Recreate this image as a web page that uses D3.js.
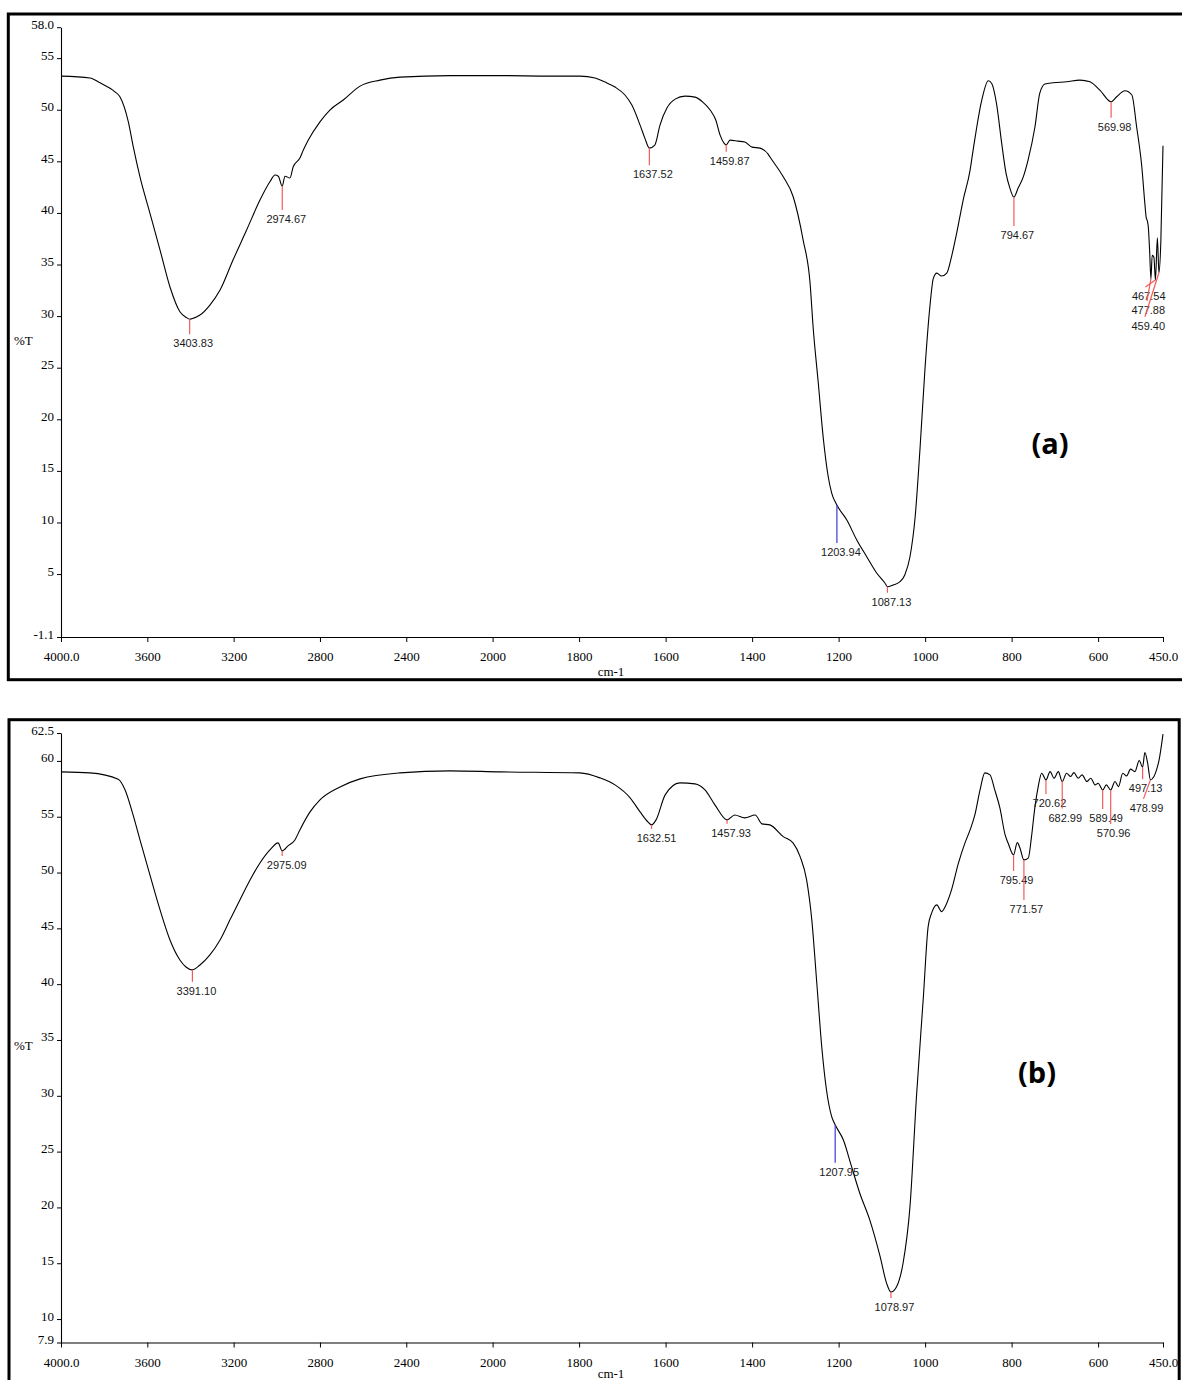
<!DOCTYPE html>
<html>
<head>
<meta charset="utf-8">
<script src="https://cdn.jsdelivr.net/npm/d3@7/dist/d3.min.js"></script>
<style>
  html, body { margin: 0; padding: 0; background: #fff; }
  svg { display: block; }
</style>
</head>
<body>
<svg id="chart" width="1182" height="1380"></svg>
<script>
// ---------------- Spectrum (a) ----------------
const wnA = [4000, 3866, 3819, 3750, 3727, 3688, 3665, 3634, 3588, 3541, 3495, 3449, 3418, 3404, 3394,
  3356, 3310, 3263, 3203, 3140, 3078, 3032, 3008, 2993, 2975, 2962, 2939, 2924, 2893, 2877, 2854, 2800,
  2754, 2692, 2614, 2522, 2429, 2197, 1983, 1867, 1798, 1763, 1740, 1717, 1694, 1678, 1659, 1648, 1637.5,
  1625, 1613, 1597, 1578, 1555, 1532, 1514, 1497, 1484, 1474, 1465, 1460, 1451, 1433, 1417, 1400, 1382,
  1363, 1359, 1328, 1305, 1282, 1266, 1259, 1247, 1235, 1224, 1216, 1204, 1181, 1158, 1135, 1112, 1093,
  1087, 1074, 1058, 1047, 1035, 1023, 1012, 1000, 989, 981, 973, 962, 950, 939, 927, 912, 896, 889, 869,
  854, 846, 835, 823, 813, 804, 794.7, 785, 773, 762, 746, 735, 723, 704, 673, 642, 619, 596, 570, 557,
  538, 522, 511, 499, 492, 489, 486, 484, 481, 477.9, 475, 471, 467.5, 463, 459.4, 455, 450];
const tA = [53.26, 53.07, 52.61, 51.74, 51.26, 48.83, 46.41, 43.50, 39.99, 36.40, 32.82, 30.42, 29.85, 29.70, 29.75,
  30.10, 31.07, 32.52, 35.43, 38.34, 41.25, 43.02, 43.67, 43.56, 42.60, 43.56, 43.38, 44.47, 45.32, 46.09, 47.06, 48.83,
  49.97, 50.94, 52.29, 52.87, 53.16, 53.31, 53.31, 53.26, 53.26, 53.07, 52.68, 52.20, 51.43, 50.45, 48.51, 47.25, 46.28,
  46.57, 48.51, 50.16, 51.03, 51.32, 51.22, 50.74, 49.97, 49.00, 47.54, 46.77, 46.60, 47.06, 46.96, 46.87, 46.38, 46.28,
  45.70, 45.44, 43.50, 41.57, 37.37, 33.20, 28.97, 23.51, 17.99, 14.43, 12.85, 11.69, 10.24, 8.30, 6.68, 5.10, 4.13,
  3.77, 3.94, 4.26, 4.91, 6.68, 10.56, 17.02, 25.09, 30.91, 33.66, 34.17, 33.88, 34.17, 35.75, 38.05, 41.25, 44.15, 46.09, 50.94,
  52.81, 52.55, 50.62, 46.77, 43.86, 42.41, 41.54, 42.41, 43.50, 45.12, 48.35, 51.58, 52.49, 52.61, 52.71, 52.87, 52.71, 51.90, 50.77, 51.26,
  51.84, 51.43, 48.35, 44.47, 40.93, 39.60, 39.20, 38.66, 36.40, 33.60, 35.90, 35.70, 33.50, 37.60, 34.20, 37.20, 46.50];

// marked bands of (a)
const peakWnA = [3403.83, 2974.67, 1637.52, 1459.87, 1203.94, 1087.13, 794.67, 569.98, 467.54, 477.88, 459.40];
const peakTA  = [29.70, 42.60, 46.28, 46.60, 11.69, 3.77, 41.54, 50.77, 33.50, 33.60, 34.20];

// ---------------- Spectrum (b) ----------------
const wnB = [4000, 3866, 3735, 3703, 3666, 3634, 3588, 3541, 3495, 3449, 3421, 3391.1, 3356, 3310, 3263,
  3217, 3171, 3124, 3078, 3032, 2994, 2975.1, 2948, 2916, 2893, 2846, 2800, 2707, 2614, 2429, 2197, 1983,
  1798, 1752, 1717, 1682, 1659, 1641, 1632.5, 1622, 1601, 1567, 1532, 1509, 1486, 1457.9, 1440, 1417, 1393,
  1377, 1359, 1328, 1305, 1289, 1274, 1262, 1251, 1239, 1228, 1216, 1208, 1189, 1170, 1151, 1128, 1104,
  1089, 1079, 1066, 1051, 1035, 1020, 1004, 993, 985, 973, 962, 950, 939, 923, 908, 896, 885, 873, 862,
  850, 839, 827, 815, 808, 795.5, 787, 780.5, 771.6, 761.5, 754, 746, 738.5, 730.5, 720.6, 711, 702, 692,
  683, 673, 663.5, 656, 646, 637, 626, 617, 607, 600, 589.5, 581, 571, 561, 553, 543, 534, 525, 515, 505,
  497.1, 492, 485.5, 479, 471, 465, 459, 450];
const tB = [59.02, 58.93, 58.36, 57.40, 55.16, 52.92, 49.79, 46.65, 43.96, 42.17, 41.54, 41.28, 41.72, 42.62, 43.96,
  45.76, 47.55, 49.34, 50.86, 52.03, 52.66, 51.94, 52.39, 52.92, 53.82, 55.43, 56.51, 57.67, 58.39, 58.93, 59.11, 59.02,
  58.93, 58.48, 57.85, 56.69, 55.43, 54.54, 54.27, 54.72, 56.96, 58.03, 57.94, 57.40, 56.06, 54.72, 55.16, 54.90, 55.16,
  54.36, 54.27, 53.22, 52.63, 51.43, 49.34, 45.76, 40.38, 34.40, 30.52, 28.13, 27.40, 26.04, 23.65, 21.27, 18.88, 15.59,
  13.20, 12.42, 12.90, 15.00, 20.07, 29.92, 38.88, 45.16, 46.36, 47.10, 46.50, 47.25, 48.44, 50.84, 52.63, 53.82, 55.16, 57.40, 58.93,
  58.75, 57.40, 55.77, 53.37, 52.63, 51.58, 52.68, 52.18, 51.13, 51.29, 53.22, 55.91, 57.70, 58.90, 58.30, 59.04, 58.45, 59.04,
  58.15, 58.90, 58.60, 58.95, 58.45, 58.75, 58.15, 58.45, 57.85, 58.00, 57.40, 57.85, 57.40, 58.15, 57.70, 58.90, 58.66, 59.26, 59.04, 60.03,
  59.44, 60.75, 59.80, 58.30, 58.60, 59.20, 60.09, 62.40];

// marked bands of (b)
const peakWnB = [3391.10, 2975.09, 1632.51, 1457.93, 1207.95, 1078.97, 795.49, 771.57, 720.62, 682.99, 589.49, 570.96, 497.13, 478.99];
const peakTB  = [41.28, 51.94, 54.27, 54.72, 27.40, 12.42, 51.58, 51.13, 58.30, 58.15, 57.40, 57.40, 59.44, 58.30];

// ---------------- Axes ----------------
const xTicks = [4000, 3600, 3200, 2800, 2400, 2000, 1800, 1600, 1400, 1200, 1000, 800, 600, 450];
const xTickLabels = ["4000.0", "3600", "3200", "2800", "2400", "2000", "1800", "1600", "1400", "1200", "1000", "800", "600", "450.0"];
const yTicksA = [58, 55, 50, 45, 40, 35, 30, 25, 20, 15, 10, 5, -1.1];
const yTickLabelsA = ["58.0", "55", "50", "45", "40", "35", "30", "25", "20", "15", "10", "5", "-1.1"];
const yTicksB = [62.5, 60, 55, 50, 45, 40, 35, 30, 25, 20, 15, 10, 7.9];
const yTickLabelsB = ["62.5", "60", "55", "50", "45", "40", "35", "30", "25", "20", "15", "10", "7.9"];

// ---------------- Layout ----------------
const SERIF = '"Liberation Serif", "Times New Roman", serif';
const SANS = '"Liberation Sans", Arial, sans-serif';
const RED = "#f25b5b", BLUE = "#3b3bd6";

// leader layout per marked band: [length px, horizontal shift px, label x offset px, colour]
const leadA = [[15, 0, 3.5, RED], [24, 0, 4, RED], [17, 0, 3.5, RED], [7, 0, 3.5, RED], [38, 0, 4, BLUE],
  [6, 0, 4, RED], [29, 0, 3.5, RED], [16, 0, 3.5, RED], [7, -10, 3.3, RED], [22, -4, 1.3, RED], [44, -14, 3.3, RED]];
const leadB = [[12, 0, 4, RED], [5, 0, 4.5, RED], [4, 0, 5, RED], [4, 0, 4, RED], [38, 0, 4, BLUE],
  [6, 0, 3.5, RED], [16, 0, 3, RED], [40, 0, 2.5, RED], [14, 0, 3.5, RED], [27, 0, 3, RED],
  [19, 0, 3.5, RED], [34, 0, 3, RED], [12, 0, 3, RED], [19, -7, 3, RED]];

const panels = [
  { frame: [8.3, 14, 1186, 679.7], yDomain: [-1.1, 58], yRange: [637, 27.2],
    wn: wnA, t: tA, yTicks: yTicksA, yLabels: yTickLabelsA, titleY: 676,
    peakWn: peakWnA, peakT: peakTA, lead: leadA, tag: "(a)", tagPos: [1050, 454] },
  { frame: [9, 719.7, 1179.2, 1400], yDomain: [7.9, 62.5], yRange: [1342.5, 733],
    wn: wnB, t: tB, yTicks: yTicksB, yLabels: yTickLabelsB, titleY: 1378,
    peakWn: peakWnB, peakT: peakTB, lead: leadB, tag: "(b)", tagPos: [1037, 1083] }
];

const svg = d3.select("#chart");

// wavenumber axis with a 2x expansion below 2000 cm-1
const x = d3.scaleLinear().domain([4000, 2000, 450]).range([61, 492.6, 1163]);

panels.forEach(p => {
  const g = svg.append("g");
  const [fx0, fy0, fx1, fy1] = p.frame;
  g.append("rect")
    .attr("x", fx0).attr("y", fy0)
    .attr("width", fx1 - fx0).attr("height", fy1 - fy0)
    .attr("fill", "none").attr("stroke", "#000").attr("stroke-width", 3);

  const y = d3.scaleLinear().domain(p.yDomain).range(p.yRange);
  const y0 = p.yRange[0];

  // x axis
  const xAxis = d3.axisBottom(x)
    .tickValues(xTicks)
    .tickFormat((d, i) => xTickLabels[i])
    .tickSize(5).tickSizeOuter(0).tickPadding(10);
  const gx = g.append("g").attr("transform", `translate(0,${y0})`).call(xAxis);
  gx.select(".domain").attr("stroke", "#000").attr("stroke-width", 1.1);
  gx.selectAll(".tick line").attr("stroke", "#000");
  gx.selectAll("text").attr("font-family", SERIF).attr("font-size", 13).attr("fill", "#000");

  // y axis
  const yAxis = d3.axisLeft(y)
    .tickValues(p.yTicks)
    .tickFormat((d, i) => p.yLabels[i])
    .tickSize(4).tickSizeOuter(0).tickPadding(3);
  const gy = g.append("g").attr("transform", "translate(61,0)").call(yAxis);
  gy.select(".domain").attr("stroke", "#000").attr("stroke-width", 1.1);
  gy.selectAll(".tick line").attr("stroke", "#000");
  gy.selectAll("text").attr("font-family", SERIF).attr("font-size", 13)
    .attr("fill", "#000").attr("dy", "1");

  // axis titles
  g.append("text").attr("x", 611).attr("y", p.titleY)
    .attr("text-anchor", "middle").attr("font-family", SERIF).attr("font-size", 13)
    .text("cm-1");
  g.append("text").attr("x", 14).attr("y", (p.yRange[0] + p.yRange[1]) / 2 + 12.5)
    .attr("font-family", SERIF).attr("font-size", 13)
    .text("%T");

  // spectrum trace
  const pts = p.wn.map((w, i) => [w, p.t[i]]);
  g.append("path")
    .datum(pts)
    .attr("fill", "none").attr("stroke", "#000").attr("stroke-width", 1.1)
    .attr("stroke-linejoin", "round")
    .attr("d", d3.line().x(d => x(d[0])).y(d => y(d[1])).curve(d3.curveMonotoneX));

  // band markers
  p.peakWn.forEach((w, i) => {
    const [len, dx, tx, col] = p.lead[i];
    const px = x(w), py = y(p.peakT[i]);
    const ex = px + dx, ey = py + len;
    g.append("line")
      .attr("x1", px).attr("y1", py).attr("x2", ex).attr("y2", ey)
      .attr("stroke", col).attr("stroke-width", 1.2);
    g.append("text")
      .attr("x", ex + tx).attr("y", ey + 13)
      .attr("text-anchor", "middle").attr("font-family", SANS).attr("font-size", 11)
      .attr("fill", "#1a1a1a")
      .text(w.toFixed(2));
  });

  // panel tag
  g.append("text")
    .attr("x", p.tagPos[0]).attr("y", p.tagPos[1])
    .attr("text-anchor", "middle")
    .attr("font-family", '"Open Sans", "Liberation Sans", sans-serif')
    .attr("font-weight", 700).attr("font-size", 29)
    .text(p.tag);
});
</script>
</body>
</html>
